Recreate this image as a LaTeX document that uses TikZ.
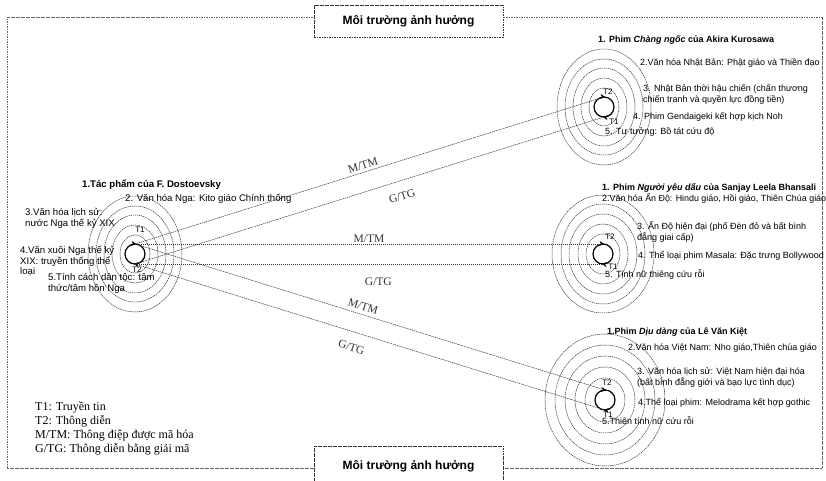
\documentclass[tikz,border=0pt]{standalone}
\usepackage{fontspec}
\setmainfont{Liberation Serif}
\setsansfont{Liberation Sans}
\usetikzlibrary{arrows.meta, decorations.markings}

\tikzset{
  frame/.style={black!60, dash pattern=on 1.6pt off 0.9pt, line width=0.6pt},
  ring/.style={black!80, dash pattern=on 1.3pt off 0.7pt, line width=0.5pt},
  link/.style={black!80, dash pattern=on 1.3pt off 0.7pt, line width=0.5pt},
  cyc/.style={line width=1.2pt, postaction={decorate}, decoration={markings,
      mark=at position 0.02 with {\arrow{Stealth[length=5pt,width=5pt]}},
      mark=at position 0.52 with {\arrow{Stealth[length=5pt,width=5pt]}}}},
  lbl/.style={font=\sffamily\fontsize{9}{10.5}\selectfont, anchor=base west, align=left, inner sep=0pt},
  tit/.style={lbl, font=\sffamily\bfseries\fontsize{9}{10.5}\selectfont},
  llbl/.style={lbl, font=\sffamily\fontsize{9.6}{10.5}\selectfont},
  ltit/.style={lbl, font=\sffamily\bfseries\fontsize{9.6}{10.5}\selectfont},
  tlbl/.style={font=\sffamily\fontsize{8}{9}\selectfont, inner sep=0pt},
  msg/.style={font=\fontsize{11.5}{13}\selectfont, inner sep=1pt},
  envbox/.style={draw=black!80, dash pattern=on 1.6pt off 0.9pt, fill=white,
      font=\sffamily\bfseries\fontsize{12}{14}\selectfont, minimum width=189pt}
}

\begin{document}
\begin{tikzpicture}[x=1pt, y=1pt]
  \useasboundingbox (0,0) rectangle (826,481);
  \draw[frame] (7,13) rectangle (822,464);

  \coordinate (L) at (135,227); \coordinate (L1) at (135,237); \coordinate (L2) at (135,217);
  \coordinate (A) at (604,374); \coordinate (A2) at (604,384); \coordinate (A1) at (604,364);
  \coordinate (B) at (603,227); \coordinate (B2) at (603,237); \coordinate (B1) at (603,217);
  \coordinate (C) at (605,81);  \coordinate (C2) at (605,91);  \coordinate (C1) at (605,71);

  \foreach \rx/\ry in {15/19, 23/29, 31/39, 39/48, 47/58} {
    \draw[ring] (L) ellipse[x radius=\rx, y radius=\ry];
    \draw[ring] (A) ellipse[x radius=\rx, y radius=\ry];
  }
  \foreach \rx/\ry in {17/20, 25/30, 34/40, 42/50, 51/59}
    \draw[ring] (B) ellipse[x radius=\rx, y radius=\ry];
  \foreach \rx/\ry in {20/22, 30/33, 40/44, 50/55, 60/66}
    \draw[ring] (C) ellipse[x radius=\rx, y radius=\ry];

  \foreach \c in {L, A, B, C}
    \draw[cyc] (\c) ++(0,10) arc[start angle=90, end angle=-270, radius=10];

  \draw[link] (L1) -- node[msg, pos=.49, sloped, above=1.5pt] {M/TM} (A2);
  \draw[link] (L2) -- node[msg, pos=.56, sloped, below=10pt] {G/TG} (A1);
  \draw[link] (L1) -- node[msg, pos=.50, above=0.5pt] {M/TM} (B2);
  \draw[link] (L2) -- node[msg, pos=.52, below=13pt] {G/TG} (B1);
  \draw[link] (L1) -- node[msg, pos=.48, sloped, above=3pt] {M/TM} (C2);
  \draw[link] (L2) -- node[msg, pos=.47, sloped, below=10pt] {G/TG} (C1);

  \node[tlbl] (lt1) at (140,251) {T1};
  \node[tlbl] (lt2) at (137,211) {T2};
  \node[ltit] (ltit) at (82,293) {1.Tác phẩm của F. Dostoevsky};
  \node[llbl] (l2) at (125,279) {2. Văn hóa Nga: Kito giáo Chính thống};
  \node[llbl] (l3) at (25,254.5) {3.Văn hóa lịch sử:\\nước Nga thế kỷ XIX};
  \node[llbl] (l4) at (20,206) {4.Văn xuôi Nga thế kỷ\\XIX: truyền thống thể\\loại};
  \node[llbl] (l5) at (48,189.5) {5.Tính cách dân tộc: tâm\\thức/tâm hồn Nga};

  \node[tlbl] (at2) at (608,389) {T2};
  \node[tlbl] (at1) at (614,359) {T1};
  \node[tit] (atit) at (598,438) {1. Phim \textit{Chàng ngốc} của Akira Kurosawa};
  \node[lbl] (a2) at (640,415) {2.Văn hóa Nhật Bản: Phật giáo và Thiền đạo};
  \node[lbl] (a3) at (643,378.5) {3. Nhật Bản thời hậu chiến (chấn thương\\chiến tranh và quyền lực đồng tiền)};
  \node[lbl] (a4) at (633,361) {4. Phim Gendaigeki kết hợp kịch Noh};
  \node[lbl] (a5) at (605,346) {5. Tư tưởng: Bồ tát cứu độ};

  \node[tlbl] (bt2) at (610,244) {T2};
  \node[tlbl] (bt1) at (613,214) {T1};
  \node[tit] (btit) at (602,290) {1. Phim \textit{Người yêu dấu} của Sanjay Leela Bhansali};
  \node[lbl, font=\sffamily\fontsize{8.9}{10.5}\selectfont] (b2) at (602,279) {2.Văn hóa Ấn Độ: Hindu giáo, Hồi giáo, Thiên Chúa giáo};
  \node[lbl] (b3) at (637,240.5) {3. Ấn Độ hiện đại (phố Đèn đỏ và bất bình\\đẳng giai cấp)};
  \node[lbl] (b4) at (638,222) {4. Thể loại phim Masala: Đặc trưng Bollywood};
  \node[lbl] (b5) at (605,203) {5. Tịnh nữ thiêng cứu rỗi};

  \node[tlbl] (ct2) at (607,98) {T2};
  \node[tlbl] (ct1) at (608,66) {T1};
  \node[tit] (ctit) at (607,146) {1.Phim \textit{Dịu dàng} của Lê Văn Kiệt};
  \node[lbl] (c2) at (628,130) {2.Văn hóa Việt Nam: Nho giáo,Thiên chúa giáo};
  \node[lbl] (c3) at (637,95.5) {3. Văn hóa lịch sử: Việt Nam hiện đại hóa\\(bất bình đẳng giới và bạo lực tình dục)};
  \node[lbl] (c4) at (638,75) {4.Thể loại phim: Melodrama kết hợp gothic};
  \node[lbl] (c5) at (602,56) {5.Thiên tính nữ cứu rỗi};

  \node[envbox, minimum height=32pt] (envtop) at (408.5,460) {Môi trường ảnh hưởng};
  \node[envbox, minimum height=40pt] (envbot) at (408.5,15) {Môi trường ảnh hưởng};

  \node[anchor=base west, align=left, inner sep=0pt, font=\fontsize{12}{14.3}\selectfont] (legend) at (35,28)
    {T1: Truyền tin\\T2: Thông diễn\\M/TM: Thông điệp được mã hóa\\G/TG: Thông diễn bằng giải mã};
\end{tikzpicture}
\end{document}
